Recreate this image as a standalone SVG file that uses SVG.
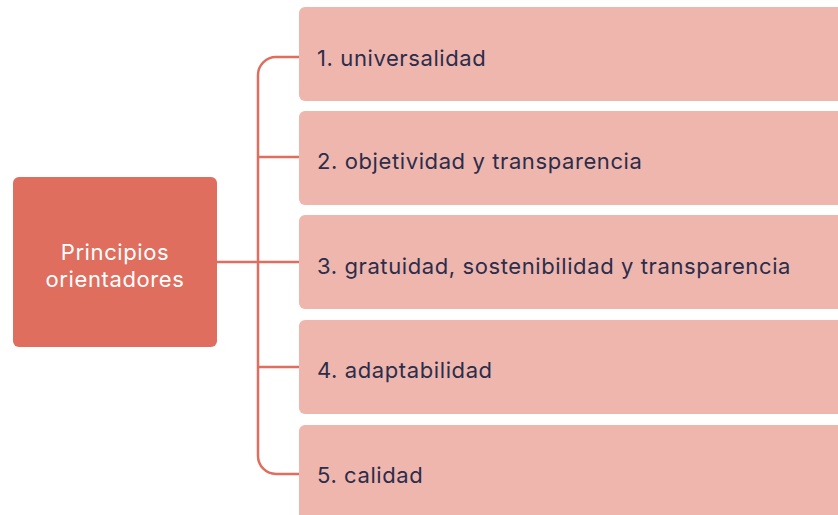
<svg xmlns="http://www.w3.org/2000/svg" width="838" height="515" viewBox="0 0 838 515">
<style>
.item{fill:#EFB6AE}
.itxt{font-family:Inter,"Liberation Sans",sans-serif;font-size:22px;letter-spacing:0.6px;fill:#2B2D4A}
.conn{fill:none;stroke:#E06E5E;stroke-width:2.5}
.rtxt{font-family:Inter,"Liberation Sans",sans-serif;font-size:22px;letter-spacing:0.6px;fill:#FFFFFF;text-anchor:middle}
</style>
<rect width="838" height="515" fill="#FFFFFF"/>
<g id="connectors">
<path class="conn" d="M299 57 H276 A18 18 0 0 0 258 75 V456 A18 18 0 0 0 276 474 H299"/>
<path class="conn" d="M258 157 H299 M258 367 H299 M216 262 H299"/>
</g>
<g id="root">
<rect x="13" y="177" width="204" height="170" rx="6" fill="#E06E5E"/>
<text class="rtxt" x="115" y="260">Principios</text>
<text class="rtxt" x="115" y="287">orientadores</text>
</g>
<g id="n1"><rect class="item" x="299" y="7" width="560" height="94" rx="6"/><text class="itxt" x="317" y="66">1. universalidad</text></g>
<g id="n2"><rect class="item" x="299" y="111" width="560" height="94" rx="6"/><text class="itxt" x="317" y="169">2. objetividad y transparencia</text></g>
<g id="n3"><rect class="item" x="299" y="215" width="560" height="94" rx="6"/><text class="itxt" x="317" y="274">3. gratuidad, sostenibilidad y transparencia</text></g>
<g id="n4"><rect class="item" x="299" y="320" width="560" height="94" rx="6"/><text class="itxt" x="317" y="378">4. adaptabilidad</text></g>
<g id="n5"><rect class="item" x="299" y="425" width="560" height="110" rx="6"/><text class="itxt" x="317" y="483">5. calidad</text></g>
</svg>
